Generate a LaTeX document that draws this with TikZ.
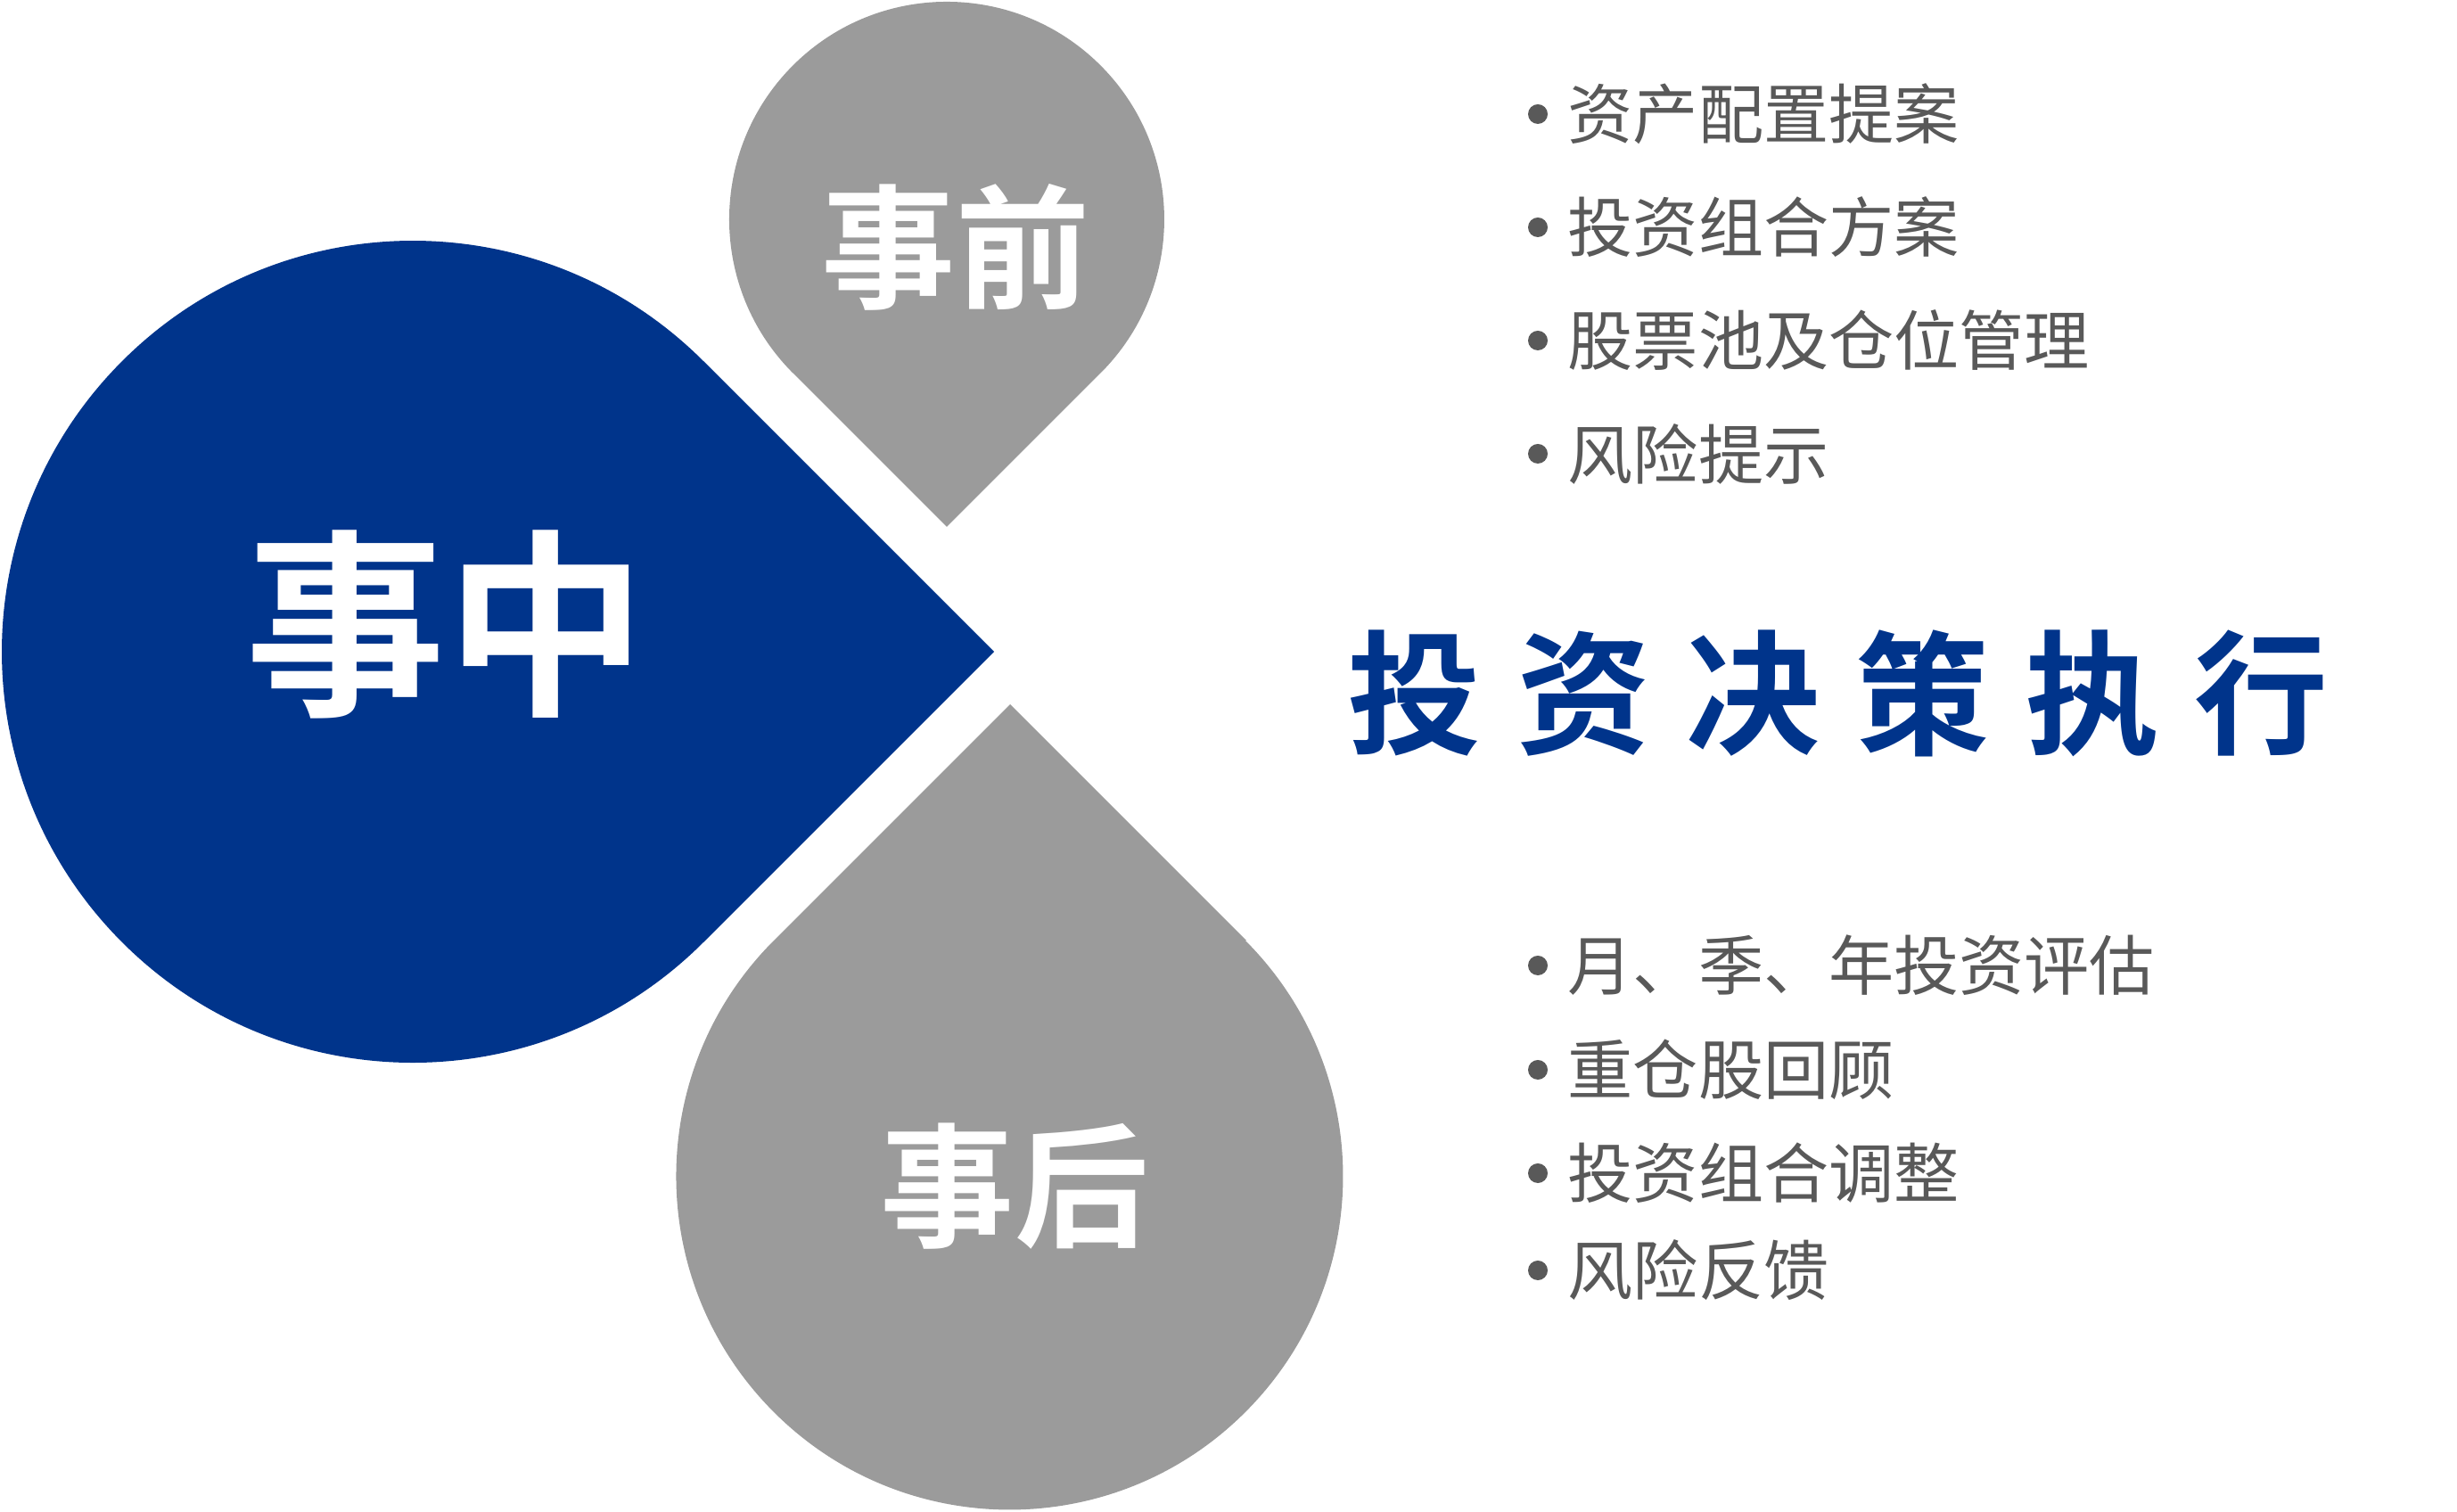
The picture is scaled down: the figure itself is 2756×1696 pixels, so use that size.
\documentclass[tikz,border=0pt]{standalone}
\usepackage{fontspec}
\usepackage{tikz}
\newfontfamily\cjk{Noto Sans CJK SC}[BoldFont=Noto Sans CJK SC Bold]
\definecolor{dropblue}{RGB}{0,52,139}
\definecolor{dropgray}{RGB}{155,155,155}
\definecolor{textgray}{RGB}{89,89,89}

\begin{document}
\begin{tikzpicture}[x=0.01cm, y=0.01cm,
  item/.style={anchor=west, inner sep=0pt, text=textgray, font=\cjk\fontsize{20.8pt}{24pt}\selectfont},
  dot/.style={circle, fill=textgray, inner sep=0pt, minimum size=0.22cm},
  droplabel/.style={text=white, inner sep=0pt, font=\cjk\bfseries\fontsize{42.7pt}{48pt}\selectfont},
  titlechar/.style={text=dropblue, inner sep=0pt, font=\cjk\bfseries\fontsize{42.7pt}{48pt}\selectfont}]
\useasboundingbox (0,0) rectangle (2756,1696);

\fill[dropblue] (789,1291) -- (1115,965) -- (789,639) arc[start angle=-45, delta angle=-270, radius=461] -- cycle;
\fill[dropgray] (889.5,1277.5) -- (1062,1105) -- (1234.5,1277.5) arc[start angle=-45, delta angle=270, radius=244] -- cycle;
\fill[dropgray] (1398,641) -- (1133,906) -- (868,641) arc[start angle=135, delta angle=270, radius=374] -- cycle;

\node[droplabel, font=\cjk\bfseries\fontsize{63.8pt}{70pt}\selectfont] (mid) at (500,996) {事中};
\node[droplabel] (before) at (1072,1419) {事前};
\node[droplabel] (after) at (1138,365) {事后};

\node[titlechar] (t1) at (1587,918) {投};
\node[titlechar] (t2) at (1777,918) {资};
\node[titlechar] (t3) at (1967,918) {决};
\node[titlechar] (t4) at (2157,918) {策};
\node[titlechar] (t5) at (2347,918) {执};
\node[titlechar] (t6) at (2537,918) {行};

\node[dot] (b1) at (1725,1568) {};
\node[dot] (b2) at (1725,1441) {};
\node[dot] (b3) at (1725,1314) {};
\node[dot] (b4) at (1725,1187) {};
\node[item] (p1) at (1758,1568) {资产配置提案};
\node[item] (p2) at (1758,1441) {投资组合方案};
\node[item] (p3) at (1758,1314) {股票池及仓位管理};
\node[item] (p4) at (1758,1187) {风险提示};

\node[dot] (c1) at (1725,613) {};
\node[dot] (c2) at (1725,496) {};
\node[dot] (c3) at (1725,380) {};
\node[dot] (c4) at (1725,271) {};
\node[item] (q1) at (1758,613) {月、季、年投资评估};
\node[item] (q2) at (1758,496) {重仓股回顾};
\node[item] (q3) at (1758,380) {投资组合调整};
\node[item] (q4) at (1758,271) {风险反馈};

\end{tikzpicture}
\end{document}
